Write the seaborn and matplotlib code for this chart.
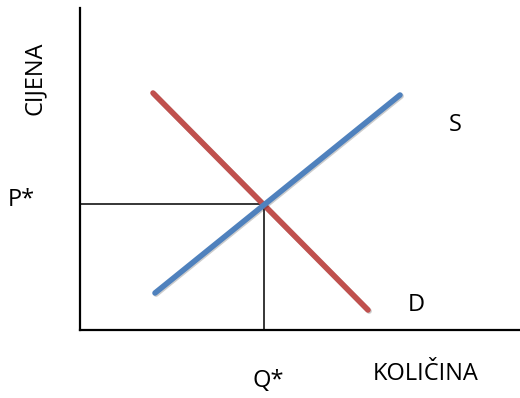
import matplotlib.pyplot as plt
import matplotlib.patheffects as pe
import pandas as pd
import seaborn as sns

# quantity / price (axis origin at bottom-left corner)
supply_q = [75, 320]
supply_p = [37, 235]
demand_q = [73, 288]
demand_p = [237, 20]
eq_q = 184
eq_p = 126

x_label = 'KOLIČINA'
y_label = 'CIJENA'

sns.set_style('white')
plt.rcParams['font.family'] = ['Open Sans', 'DejaVu Sans']

fig = plt.figure(figsize=(5.2, 3.98), dpi=100)
ax = fig.add_axes([80 / 520, 68 / 398, 440 / 520, 322 / 398])

df = pd.concat([
    pd.DataFrame({'q': supply_q, 'p': supply_p, 'curve': 'S'}),
    pd.DataFrame({'q': demand_q, 'p': demand_p, 'curve': 'D'}),
])

# guide lines to the equilibrium point
ax.plot([0, eq_q], [eq_p, eq_p], color='black', lw=1.1, zorder=1)
ax.plot([eq_q, eq_q], [0, eq_p], color='black', lw=1.1, zorder=1)

shadow = [pe.SimpleLineShadow(offset=(0.8, -0.8), alpha=0.2), pe.Normal()]
sns.lineplot(data=df, x='q', y='p', hue='curve', sort=False,
             palette={'S': '#4F81BD', 'D': '#C0504D'},
             hue_order=['D', 'S'], lw=4.0, legend=False, ax=ax,
             path_effects=shadow, zorder=3)

ax.set_xlim(0, 440)
ax.set_ylim(0, 322)
ax.set_xticks([])
ax.set_yticks([])
ax.set_xlabel('')
ax.set_ylabel('')
sns.despine(ax=ax)
for side in ['left', 'bottom']:
    ax.spines[side].set_color('black')
    ax.spines[side].set_linewidth(1.6)

fs = 17
kw = dict(ha='center', va='center', fontsize=fs, color='black', clip_on=False)
ax.text(-45, 252, y_label, rotation=90, **kw)
ax.text(-59, 130, 'P*', **kw)
ax.text(188, -51, 'Q*', **kw)
ax.text(346, -44, x_label, **kw)
ax.text(336, 25, 'D', **kw)
ax.text(375, 205, 'S', **kw)

fig.savefig('out.png', dpi=100)
